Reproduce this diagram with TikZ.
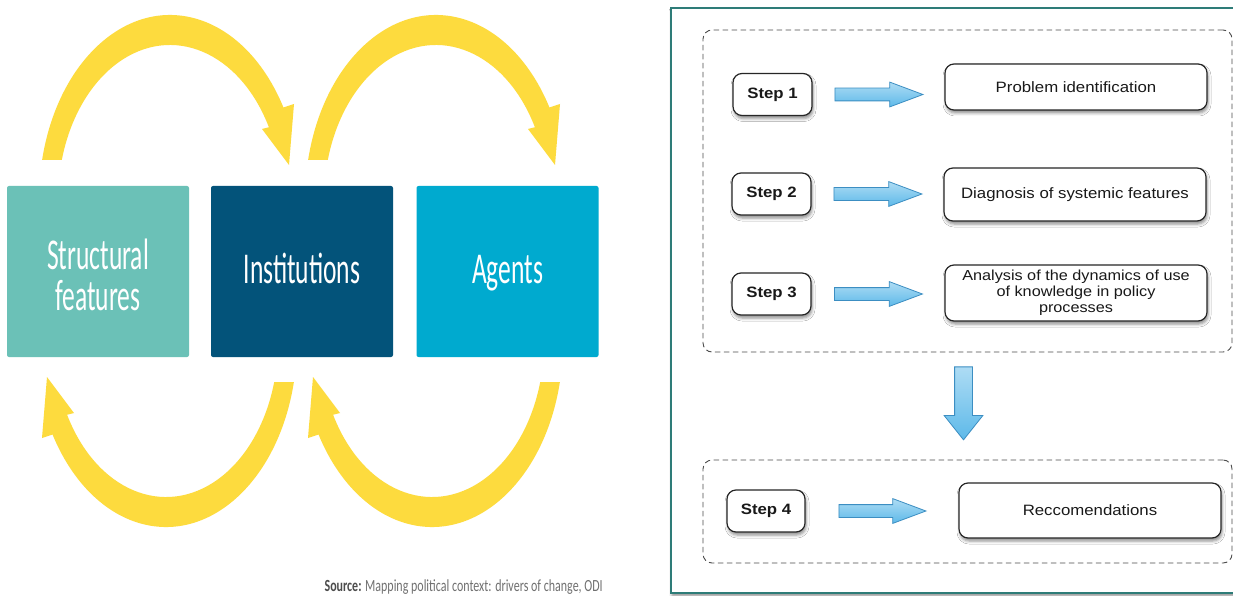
\documentclass[tikz,border=0pt]{standalone}
\usepackage{fontspec}
\setmainfont{Liberation Sans}
\newfontfamily\condfont{Carlito}
\usetikzlibrary{calc,shapes.arrows,shadows.blur}

\definecolor{loopyellow}{HTML}{FDDB3E}
\definecolor{structteal}{HTML}{6BC1B7}
\definecolor{instnavy}{HTML}{03537A}
\definecolor{agentblue}{HTML}{00AACF}
\definecolor{frameteal}{HTML}{2E7C78}
\definecolor{dashgray}{HTML}{4A4A4A}
\definecolor{arrowfill}{HTML}{5DB9E9}
\definecolor{arrowedge}{HTML}{3C8EC2}
\definecolor{srcgray}{HTML}{707070}

% one curved feedback arrow; the others are shifted / rotated copies
\newcommand\yellowloop{%
  \fill[loopyellow]
    ([shift={(170,200)}]192.5:131 and 185)
    arc[start angle=192.5, end angle=330, x radius=131, y radius=185]
    -- (294,104) -- (289,165) -- (262,129)
    -- ([shift={(170,200)}]332:112 and 155)
    arc[start angle=332, end angle=195, x radius=112, y radius=155]
    -- cycle;}

% horizontally widened text for the process panel
\newcommand\rtxt[1]{\scalebox{1.12}[1]{#1}}

\tikzset{
  factor/.style={rectangle, rounded corners=2pt, minimum width=182,
    minimum height=171, inner sep=0pt, text=white,
    font=\condfont\fontsize{44}{39}\selectfont},
  factortext/.style={inner sep=0pt, text=white, anchor=base,
    font=\condfont\fontsize{44}{39}\selectfont},
  softshadow/.style={blur shadow={shadow xshift=1pt, shadow yshift=-3pt,
    shadow blur radius=3pt, shadow opacity=45}},
  groupbox/.style={rectangle, draw=dashgray, dash pattern=on 5.5pt off 3.5pt,
    line width=0.9pt, rounded corners=9pt, inner sep=0pt},
  stepbox/.style={rectangle, rounded corners=9pt, draw=black!85,
    line width=1.2pt, fill=white, minimum width=79, minimum height=42,
    inner sep=0pt, text=black!90, softshadow,
    font=\bfseries\fontsize{15}{16}\selectfont},
  resultbox/.style={stepbox, minimum width=262, font=\fontsize{15}{16}\selectfont},
  flowarrow/.style={single arrow, minimum height=88, anchor=tail,
    text height=6pt, text depth=6pt, text width=0pt,
    single arrow head extend=6pt, single arrow tip angle=41,
    single arrow head indent=0pt, inner sep=0pt, draw=arrowedge,
    line width=0.8pt, top color=arrowfill!50!white, bottom color=arrowfill},
}

\begin{document}
\begin{tikzpicture}[x=1pt, y=-1pt]
\useasboundingbox (0,0) rectangle (1233,596);
\clip (0,0) rectangle (1233,596);
\fill[white] (0,0) rectangle (1233,596);

% ---------- left: drivers of change ----------
\yellowloop
\begin{scope}[shift={(266,0)}]\yellowloop\end{scope}
\begin{scope}[rotate around={180:(168,271)}]\yellowloop\end{scope}
\begin{scope}[shift={(266,0)}, rotate around={180:(168,271)}]\yellowloop\end{scope}

\node[factor, fill=structteal] (sf) at (98,271.5) {};
\node[factortext] (sftext) at (sf.center |- 0,269)
  {\scalebox{0.58}[1]{\begin{tabular}[t]{@{}c@{}}Structural\\features\end{tabular}}};
\node[factor, fill=instnavy, text height=23pt, text depth=0pt] (inst) at (302,271.5)
  {\scalebox{0.58}[1]{Institutions}};
\node[factor, fill=agentblue, text height=23pt, text depth=0pt] (agents) at (507.5,271.5)
  {\scalebox{0.58}[1]{Agents}};

\node[anchor=east, inner sep=0pt, text=srcgray,
      font=\condfont\fontsize{17}{18}\selectfont] (src) at (603,587)
  {\scalebox{0.705}[1]{\textbf{\color{black!70}Source:} Mapping political context: drivers of change, ODI}};

% ---------- right: analysis process ----------
\draw[frameteal, line width=1.5pt, fill=white, softshadow] (671,8) rectangle (1262,593);

\node[groupbox, minimum width=529, minimum height=322] (g1) at (967.5,191) {};
\node[groupbox, minimum width=529, minimum height=103] (g2) at (967.5,511.5) {};

\node[stepbox] (s1) at (772.5,94.5) {\rtxt{Step 1}};
\node[stepbox] (s2) at (771.5,194) {\rtxt{Step 2}};
\node[stepbox] (s3) at (771.5,294) {\rtxt{Step 3}};
\node[stepbox, minimum width=78] (s4) at (766,511) {\rtxt{Step 4}};

\node[resultbox, minimum height=46] (r1) at (1076,87) {\rtxt{Problem identification}};
\node[resultbox, minimum height=53] (r2) at (1075,194.5) {\rtxt{Diagnosis of systemic features}};
\node[resultbox, minimum height=56, font=\fontsize{14.5}{16}\selectfont] (r3) at (1076,293)
  {\rtxt{\begin{tabular}{@{}c@{}}Analysis of the dynamics of use\\of knowledge in policy\\processes\end{tabular}}};
\node[resultbox, minimum height=55] (r4) at (1090,510.5) {\rtxt{Reccomendations}};

% step -> result connectors, centred in the gap between the two boxes
\node[flowarrow] (a1) at ($(s1.east)!0.5!(r1.west |- s1.east)+(-44,0)$) {};
\node[flowarrow] (a2) at ($(s2.east)!0.5!(r2.west |- s2.east)+(-44,0)$) {};
\node[flowarrow] (a3) at ($(s3.east)!0.5!(r3.west |- s3.east)+(-44,0)$) {};
\node[flowarrow, minimum height=87] (a4) at ($(s4.east)!0.5!(r4.west |- s4.east)+(-43.5,0)$) {};

% group 1 -> group 2
\node[flowarrow, rotate=-90, minimum height=73,
      text height=8.5pt, text depth=8.5pt,
      single arrow head extend=10.5pt, single arrow tip angle=77] (down)
  at ($(g1.south)+(-4,14)$) {};
\end{tikzpicture}
\end{document}
